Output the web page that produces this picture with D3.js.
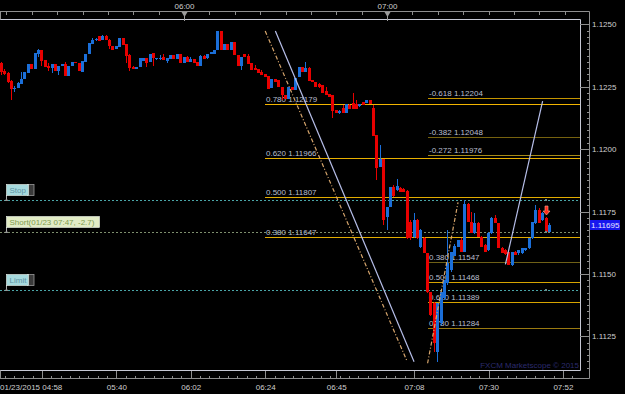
<!DOCTYPE html>
<html>
<head>
<meta charset="utf-8">
<script src="https://cdnjs.cloudflare.com/ajax/libs/d3/7.8.5/d3.min.js"></script>
<style>
  html, body { margin: 0; padding: 0; background: #000; }
  svg { display: block; font-family: "Liberation Sans", Arial, sans-serif; }
</style>
</head>
<body>
<svg id="chart"></svg>
<script>
// EUR/USD 1 minute bars, 01/23/2015, first bar 05:05
const firstBarTime = '05:05';

const opens = [
  1.12329, 1.12345, 1.12313, 1.12305, 1.12272, 1.12240, 1.12244, 1.12260, 1.12280, 1.12305,
  1.12340, 1.12319, 1.12383, 1.12397, 1.12357, 1.12334, 1.12323, 1.12340, 1.12314, 1.12332,
  1.12340, 1.12292, 1.12332, 1.12350, 1.12343, 1.12310, 1.12350, 1.12383, 1.12423, 1.12437,
  1.12453, 1.12439, 1.12454, 1.12439, 1.12414, 1.12401, 1.12410, 1.12446, 1.12421, 1.12379,
  1.12327, 1.12320, 1.12330, 1.12353, 1.12366, 1.12350, 1.12386, 1.12359, 1.12360, 1.12367,
  1.12354, 1.12359, 1.12377, 1.12359, 1.12381, 1.12343, 1.12367, 1.12350, 1.12359, 1.12350,
  1.12334, 1.12373, 1.12363, 1.12381, 1.12383, 1.12397, 1.12473, 1.12399, 1.12423, 1.12397,
  1.12430, 1.12379, 1.12334, 1.12381, 1.12373, 1.12343, 1.12323, 1.12319, 1.12310, 1.12300,
  1.12292, 1.12243, 1.12280, 1.12276, 1.12247, 1.12216, 1.12200, 1.12247, 1.12236, 1.12287,
  1.12330, 1.12310, 1.12324, 1.12275, 1.12267, 1.12260, 1.12256, 1.12232, 1.12220, 1.12216,
  1.12156, 1.12144, 1.12163, 1.12143, 1.12176, 1.12183, 1.12180, 1.12173, 1.12188, 1.12184,
  1.12196, 1.12163, 1.12056, 1.11927, 1.11960, 1.11729, 1.11769, 1.11848, 1.11836, 1.11844,
  1.11840, 1.11832, 1.11708, 1.11649, 1.11716, 1.11609, 1.11642, 1.11582, 1.11429, 1.11383,
  1.11188, 1.11302, 1.11402, 1.11462, 1.11516, 1.11571, 1.11608, 1.11635, 1.11588, 1.11782,
  1.11709, 1.11662, 1.11702, 1.11649, 1.11615, 1.11595, 1.11662, 1.11722, 1.11702, 1.11602,
  1.11595, 1.11587, 1.11535, 1.11588, 1.11582, 1.11582, 1.11595, 1.11602, 1.11642, 1.11702,
  1.11756, 1.11716, 1.11722, 1.11668
];
const highs = [
  1.12349, 1.12349, 1.12321, 1.12309, 1.12276, 1.12252, 1.12268, 1.12309, 1.12309, 1.12340,
  1.12341, 1.12386, 1.12403, 1.12399, 1.12357, 1.12346, 1.12340, 1.12342, 1.12332, 1.12340,
  1.12350, 1.12332, 1.12350, 1.12350, 1.12345, 1.12352, 1.12383, 1.12426, 1.12446, 1.12446,
  1.12455, 1.12457, 1.12456, 1.12440, 1.12414, 1.12413, 1.12446, 1.12446, 1.12422, 1.12380,
  1.12332, 1.12330, 1.12363, 1.12363, 1.12366, 1.12383, 1.12386, 1.12364, 1.12377, 1.12383,
  1.12363, 1.12377, 1.12377, 1.12383, 1.12381, 1.12367, 1.12374, 1.12370, 1.12359, 1.12350,
  1.12377, 1.12377, 1.12383, 1.12390, 1.12397, 1.12473, 1.12473, 1.12423, 1.12423, 1.12430,
  1.12430, 1.12379, 1.12370, 1.12381, 1.12381, 1.12343, 1.12337, 1.12319, 1.12317, 1.12300,
  1.12292, 1.12280, 1.12280, 1.12276, 1.12247, 1.12216, 1.12247, 1.12247, 1.12284, 1.12330,
  1.12330, 1.12347, 1.12328, 1.12275, 1.12267, 1.12264, 1.12256, 1.12248, 1.12220, 1.12216,
  1.12156, 1.12156, 1.12176, 1.12180, 1.12180, 1.12223, 1.12196, 1.12180, 1.12190, 1.12196,
  1.12198, 1.12176, 1.12056, 1.12016, 1.11960, 1.11769, 1.11849, 1.11856, 1.11879, 1.11848,
  1.11844, 1.11836, 1.11716, 1.11743, 1.11720, 1.11680, 1.11646, 1.11582, 1.11429, 1.11387,
  1.11383, 1.11428, 1.11475, 1.11676, 1.11588, 1.11619, 1.11635, 1.11643, 1.11795, 1.11783,
  1.11749, 1.11744, 1.11708, 1.11652, 1.11619, 1.11668, 1.11728, 1.11736, 1.11704, 1.11608,
  1.11599, 1.11591, 1.11588, 1.11591, 1.11595, 1.11605, 1.11605, 1.11643, 1.11709, 1.11776,
  1.11764, 1.11748, 1.11727, 1.11702
];
const lows = [
  1.12325, 1.12297, 1.12297, 1.12264, 1.12196, 1.12229, 1.12244, 1.12260, 1.12280, 1.12305,
  1.12319, 1.12319, 1.12370, 1.12334, 1.12330, 1.12314, 1.12305, 1.12313, 1.12297, 1.12332,
  1.12292, 1.12292, 1.12332, 1.12343, 1.12313, 1.12310, 1.12350, 1.12383, 1.12423, 1.12434,
  1.12434, 1.12439, 1.12437, 1.12401, 1.12399, 1.12401, 1.12410, 1.12417, 1.12346, 1.12314,
  1.12320, 1.12320, 1.12330, 1.12353, 1.12330, 1.12350, 1.12334, 1.12356, 1.12356, 1.12356,
  1.12346, 1.12359, 1.12359, 1.12359, 1.12343, 1.12343, 1.12350, 1.12350, 1.12346, 1.12334,
  1.12334, 1.12361, 1.12361, 1.12381, 1.12383, 1.12397, 1.12399, 1.12399, 1.12397, 1.12397,
  1.12379, 1.12334, 1.12317, 1.12367, 1.12340, 1.12317, 1.12317, 1.12305, 1.12297, 1.12290,
  1.12240, 1.12243, 1.12267, 1.12250, 1.12196, 1.12200, 1.12200, 1.12236, 1.12236, 1.12287,
  1.12310, 1.12310, 1.12272, 1.12267, 1.12247, 1.12244, 1.12225, 1.12216, 1.12207, 1.12124,
  1.12143, 1.12140, 1.12143, 1.12143, 1.12160, 1.12159, 1.12159, 1.12170, 1.12176, 1.12184,
  1.12179, 1.12052, 1.11876, 1.11927, 1.11695, 1.11676, 1.11769, 1.11808, 1.11832, 1.11829,
  1.11829, 1.11638, 1.11636, 1.11644, 1.11638, 1.11605, 1.11582, 1.11425, 1.11330, 1.11188,
  1.11148, 1.11295, 1.11395, 1.11455, 1.11507, 1.11571, 1.11607, 1.11587, 1.11587, 1.11709,
  1.11662, 1.11660, 1.11649, 1.11609, 1.11588, 1.11591, 1.11660, 1.11702, 1.11602, 1.11582,
  1.11575, 1.11535, 1.11531, 1.11575, 1.11575, 1.11578, 1.11591, 1.11598, 1.11640, 1.11699,
  1.11702, 1.11712, 1.11667, 1.11667
];
const closes = [
  1.12345, 1.12309, 1.12301, 1.12268, 1.12240, 1.12245, 1.12265, 1.12280, 1.12307, 1.12340,
  1.12319, 1.12386, 1.12397, 1.12354, 1.12330, 1.12323, 1.12340, 1.12313, 1.12332, 1.12340,
  1.12292, 1.12332, 1.12350, 1.12343, 1.12313, 1.12352, 1.12383, 1.12426, 1.12439, 1.12441,
  1.12434, 1.12455, 1.12437, 1.12414, 1.12399, 1.12413, 1.12446, 1.12417, 1.12373, 1.12323,
  1.12320, 1.12330, 1.12363, 1.12363, 1.12346, 1.12383, 1.12363, 1.12363, 1.12363, 1.12356,
  1.12363, 1.12377, 1.12359, 1.12383, 1.12343, 1.12367, 1.12350, 1.12361, 1.12346, 1.12334,
  1.12373, 1.12361, 1.12383, 1.12390, 1.12397, 1.12473, 1.12399, 1.12423, 1.12397, 1.12430,
  1.12379, 1.12334, 1.12370, 1.12367, 1.12340, 1.12317, 1.12317, 1.12305, 1.12297, 1.12290,
  1.12240, 1.12280, 1.12267, 1.12250, 1.12216, 1.12200, 1.12247, 1.12236, 1.12284, 1.12330,
  1.12310, 1.12326, 1.12272, 1.12267, 1.12247, 1.12248, 1.12225, 1.12216, 1.12207, 1.12153,
  1.12143, 1.12152, 1.12143, 1.12180, 1.12160, 1.12159, 1.12159, 1.12180, 1.12176, 1.12196,
  1.12179, 1.12052, 1.11923, 1.11960, 1.11715, 1.11769, 1.11849, 1.11812, 1.11852, 1.11829,
  1.11829, 1.11642, 1.11644, 1.11716, 1.11642, 1.11676, 1.11582, 1.11429, 1.11335, 1.11222,
  1.11382, 1.11428, 1.11475, 1.11542, 1.11588, 1.11611, 1.11635, 1.11588, 1.11782, 1.11709,
  1.11662, 1.11702, 1.11649, 1.11609, 1.11588, 1.11665, 1.11722, 1.11702, 1.11602, 1.11582,
  1.11579, 1.11535, 1.11588, 1.11575, 1.11595, 1.11602, 1.11602, 1.11642, 1.11709, 1.11756,
  1.11702, 1.11742, 1.11668, 1.11695
];

// Fibonacci retracement / extension levels
const fibStartA = '06:24';
const fibRatiosA = ['0.780', '0.620', '0.500', '0.380'];
const fibPricesA = [1.12179, 1.11966, 1.11807, 1.11647];
const fibStartB = '07:12';
const fibRatiosB = ['-0.618', '-0.382', '-0.272', '0.380', '0.500', '0.620', '0.780'];
const fibPricesB = [1.12204, 1.12048, 1.11976, 1.11547, 1.11468, 1.11389, 1.11284];

// trend lines (start time/price -> end time/price)
const trendStartTimes = ['06:27', '06:24', '07:12', '07:35'];
const trendStartPrices = [1.12473, 1.12473, 1.11142, 1.11538];
const trendEndTimes = ['07:08', '07:06', '07:21', '07:46'];
const trendEndPrices = [1.11148, 1.11148, 1.11787, 1.12192];

// open position and its orders
const orderNames = ['Stop', 'Short(01/23 07:47, -2.7)', 'Limit'];
const orderPrices = [1.11796, 1.11668, 1.11436];
const entryTime = '07:47';

// axis ticks
const priceTicks = [1.1125, 1.1150, 1.1175, 1.1200, 1.1225, 1.1250];
const hourTicks = ['06:00', '07:00'];
const bottomTickTimes = ['05:18', '05:40', '06:02', '06:24', '06:45', '07:08', '07:30', '07:52'];
const bottomTickLabels = ['', '05:40', '06:02', '06:24', '06:45', '07:08', '07:30', '07:52'];
const firstDateLabel = '01/23/2015 04:58';
const watermark = 'FXCM Marketscope \u00a9 2015';

const parseTime = d3.timeParse('%Y-%m-%d %H:%M');
const at = s => parseTime('2015-01-23 ' + s);

class CandleChart {

    constructor(_config) {
        this.config = {
            parentElement: _config.parentElement,
            containerWidth: _config.containerWidth || 625,
            containerHeight: _config.containerHeight || 394,
        };
        this.initVis();
    }

    initVis() {
        let vis = this;

        // plot frame in marketscope layout: price scale column on the right, time bands top and bottom
        vis.frame = { right: 580, scaleRight: 589, bandTop: 11, top: 19, bottom: 370, bandBottom: 378 };

        vis.svg = d3.select(vis.config.parentElement)
            .attr('width', vis.config.containerWidth)
            .attr('height', vis.config.containerHeight)
            .style('background', '#000');

        vis.xScale = d3.scaleTime()
            .domain([at('06:00'), at('07:00')])
            .range([184, 387]);

        vis.yScale = d3.scaleLinear()
            .domain([1.1125, 1.1250])
            .range([336.3, 24.3]);

        vis.svg.append('defs').append('clipPath')
            .attr('id', 'plot-clip')
            .append('rect')
            .attr('x', 0)
            .attr('y', vis.frame.top)
            .attr('width', vis.frame.right)
            .attr('height', vis.frame.bottom - vis.frame.top);

        vis.bars = opens.map((o, i) => ({
            time: d3.timeMinute.offset(at(firstBarTime), i),
            open: o, high: highs[i], low: lows[i], close: closes[i]
        }));
    }

    render() {
        let vis = this;
        const f = vis.frame;
        const x = vis.xScale, y = vis.yScale;
        const crisp = v => Math.round(v) + 0.5;

        vis.drawAxes();

        const plot = vis.svg.append('g').attr('clip-path', 'url(#plot-clip)');

        // fib levels
        const fibColorsA = ['#f2b400', '#e8b000', '#e2ad00', '#e2ad00'];
        const fibColorsB = ['#c49400', '#76620f', '#a68a18', '#6f6117', '#d6a400', '#d6a400', '#9a7a10'];
        const fibs = fibRatiosA.map((r, i) => ({ r, p: fibPricesA[i], start: at(fibStartA), color: fibColorsA[i] }))
            .concat(fibRatiosB.map((r, i) => ({ r, p: fibPricesB[i], start: at(fibStartB), color: fibColorsB[i] })));

        plot.selectAll('.fib-line').data(fibs).join('line')
            .attr('class', 'fib-line')
            .attr('x1', d => Math.round(x(d.start)))
            .attr('x2', f.right)
            .attr('y1', d => crisp(y(d.p)))
            .attr('y2', d => crisp(y(d.p)))
            .attr('stroke', d => d.color)
            .attr('stroke-width', 1);

        plot.selectAll('.fib-label').data(fibs).join('text')
            .attr('class', 'fib-label')
            .attr('x', d => Math.round(x(d.start)) + 1)
            .attr('y', d => Math.round(y(d.p)) - 2.5)
            .attr('fill', '#b9bfd0')
            .attr('font-size', 8)
            .text(d => `${d.r} ${d.p.toFixed(5)}`);

        // order lines
        const orderLineColors = ['#4aa6a8', '#7e8f6e', '#4aa6a8'];
        plot.selectAll('.order-line').data(orderPrices).join('line')
            .attr('class', 'order-line')
            .attr('x1', 0).attr('x2', f.right)
            .attr('y1', d => crisp(y(d))).attr('y2', d => crisp(y(d)))
            .attr('stroke', (d, i) => orderLineColors[i])
            .attr('stroke-dasharray', '2,2');

        // candles
        const up = '#1b6fd9', down = '#e80000';
        const candle = plot.selectAll('.candle').data(vis.bars).join('g').attr('class', 'candle');
        candle.append('rect')
            .attr('x', d => Math.round(x(d.time) - 1.5) + 1)
            .attr('width', 1)
            .attr('y', d => Math.round(y(d.high)))
            .attr('height', d => Math.max(1, Math.round(y(d.low)) - Math.round(y(d.high))))
            .attr('fill', d => d.close >= d.open ? up : down);
        candle.append('rect')
            .attr('x', d => Math.round(x(d.time) - 1.5))
            .attr('width', 3)
            .attr('y', d => Math.round(y(Math.max(d.open, d.close))))
            .attr('height', d => Math.max(1, Math.round(y(Math.min(d.open, d.close))) - Math.round(y(Math.max(d.open, d.close)))))
            .attr('fill', d => d.close >= d.open ? up : down);

        // trend lines
        const trendColors = ['#b7bfea', '#d6a56c', '#d6a56c', '#b7bfea'];
        const trendDash = [null, '4,2,1,2', '4,2,1,2', null];
        plot.selectAll('.trend').data(trendStartTimes).join('line')
            .attr('class', 'trend')
            .attr('x1', (d, i) => x(at(d)))
            .attr('y1', (d, i) => y(trendStartPrices[i]))
            .attr('x2', (d, i) => x(at(trendEndTimes[i])))
            .attr('y2', (d, i) => y(trendEndPrices[i]))
            .attr('stroke', (d, i) => trendColors[i])
            .attr('stroke-width', 1.2)
            .attr('stroke-dasharray', (d, i) => trendDash[i]);

        // order flags on the left
        const flagFill = ['#a6dade', '#e2ecc6', '#a6dade'];
        const flagText = ['#5f93a3', '#7e9a4e', '#5f93a3'];
        const flagWidth = [22, 93, 22];
        const flag = plot.selectAll('.flag').data(orderNames).join('g')
            .attr('class', 'flag')
            .attr('transform', (d, i) => `translate(6,${Math.round(y(orderPrices[i]))})`);
        flag.append('line')
            .attr('x1', 0.5).attr('x2', 0.5).attr('y1', -5).attr('y2', 0)
            .attr('stroke', '#b0b0b0');
        flag.append('path')
            .attr('d', 'M-1.5,1 L2.5,1 L0.5,-1.5 Z')
            .attr('fill', '#9a9a9a');
        flag.filter((d, i) => i !== 1).append('rect')
            .attr('x', (d, i) => flagWidth[0] - 0.5).attr('y', -15.5)
            .attr('width', 6.5).attr('height', 11)
            .attr('fill', '#3a3a3a').attr('stroke', '#9a9a9a').attr('stroke-width', 0.8);
        flag.append('rect')
            .attr('x', 0.5).attr('y', -15.5)
            .attr('width', (d, i) => flagWidth[i]).attr('height', 11)
            .attr('fill', (d, i) => flagFill[i])
            .attr('stroke', '#f2f8f0').attr('stroke-width', 0.6);
        flag.append('text')
            .attr('x', 3.5).attr('y', -7)
            .attr('font-size', 8)
            .attr('fill', (d, i) => flagText[i])
            .text(d => d);

        // order markers at the entry bar
        plot.selectAll('.order-dot').data(orderPrices).join('rect')
            .attr('class', 'order-dot')
            .attr('x', Math.round(x(at(entryTime))) - 1)
            .attr('y', d => Math.round(y(d)) - 1)
            .attr('width', 2).attr('height', 2)
            .attr('fill', '#6f8c8a');

        // sell arrow above the entry bar
        const ax = Math.round(x(at(entryTime))) + 0.5;
        const ay = Math.round(y(highs[highs.length - 2])) - 11;
        plot.append('path')
            .attr('d', `M${ax - 1.5},${ay} h3 v5 h2 l-3.5,4 l-3.5,-4 h2 Z`)
            .attr('fill', '#ff2a1a')
            .attr('stroke', '#ffb09a')
            .attr('stroke-width', 0.6);

        // watermark
        vis.svg.append('text')
            .attr('x', f.right - 1)
            .attr('y', f.bottom - 2)
            .attr('text-anchor', 'end')
            .attr('font-size', 8)
            .attr('fill', '#2b2b6e')
            .text(watermark);

        // current price marker
        const last = closes[closes.length - 1];
        const ly = Math.round(y(last));
        vis.svg.append('rect')
            .attr('x', 590).attr('y', ly - 5)
            .attr('width', 30).attr('height', 10)
            .attr('fill', '#1717ee');
        vis.svg.append('text')
            .attr('x', 591).attr('y', ly + 3)
            .attr('font-size', 8)
            .attr('fill', '#e8e8ff')
            .text(last.toFixed(5));
    }

    drawAxes() {
        let vis = this;
        const f = vis.frame;
        const x = vis.xScale, y = vis.yScale;
        const lineColor = '#8e8e8e', frameColor = '#c6c8d4', textColor = '#cfcfcf';

        // frame lines
        const frameLines = [
            [0, f.bandTop + 0.5, f.scaleRight + 0.5, f.bandTop + 0.5, lineColor],
            [0, f.top + 0.5, f.right + 0.5, f.top + 0.5, frameColor],
            [0, f.bottom + 0.5, f.right + 0.5, f.bottom + 0.5, frameColor],
            [0, f.bandBottom + 0.5, f.scaleRight + 0.5, f.bandBottom + 0.5, lineColor],
            [f.right + 0.5, f.top + 0.5, f.right + 0.5, f.bottom + 0.5, frameColor],
            [f.scaleRight + 0.5, f.bandTop + 0.5, f.scaleRight + 0.5, f.bandBottom + 0.5, lineColor],
            [0.5, f.bandTop + 0.5, 0.5, f.top + 0.5, lineColor],
            [0.5, f.bottom + 0.5, 0.5, f.bandBottom + 0.5, lineColor]
        ];
        vis.svg.selectAll('.frame').data(frameLines).join('line')
            .attr('class', 'frame')
            .attr('x1', d => d[0]).attr('y1', d => d[1])
            .attr('x2', d => d[2]).attr('y2', d => d[3])
            .attr('stroke', d => d[4]);

        const styleAxis = g => {
            g.select('.domain').remove();
            g.selectAll('line').attr('stroke', lineColor).attr('shape-rendering', 'crispEdges');
            g.selectAll('text').attr('fill', textColor).attr('font-size', 8)
                .attr('font-family', '"Liberation Sans", Arial, sans-serif');
        };

        // price scale
        vis.svg.append('g')
            .attr('transform', `translate(${f.right},0)`)
            .call(d3.axisRight(y).tickValues(priceTicks).tickFormat(d3.format('.4f')).tickSize(9).tickPadding(3))
            .call(styleAxis);

        const minorPrices = d3.range(1.1100, 1.1265, 0.00025)
            .filter(p => y(p) > f.top + 2 && y(p) < f.bottom - 2);
        vis.svg.append('g')
            .attr('transform', `translate(${f.scaleRight + 0.5},0)`)
            .call(d3.axisLeft(y).tickValues(minorPrices).tickFormat('').tickSize(3))
            .call(styleAxis);

        // top band: 7.5 minute ticks and hour markers
        const topTicks = d3.range(0, 200, 7.5)
            .map(m => d3.timeSecond.offset(at('05:00'), m * 60))
            .filter(t => x(t) > 1 && x(t) < f.right);
        vis.svg.append('g')
            .attr('transform', `translate(0,${f.bandTop + 0.5})`)
            .call(d3.axisBottom(x).tickValues(topTicks).tickFormat('').tickSize(3))
            .call(styleAxis);

        const hours = vis.svg.selectAll('.hour').data(hourTicks).join('g')
            .attr('class', 'hour')
            .attr('transform', d => `translate(${Math.round(x(at(d))) + 0.5},0)`);
        hours.append('path')
            .attr('d', `M-3,${f.bandTop + 1} L3,${f.bandTop + 1} L0,${f.bandTop + 6} Z`)
            .attr('fill', '#9c9c9c');
        hours.append('line')
            .attr('y1', f.bandTop + 5).attr('y2', f.top + 2)
            .attr('stroke', '#9c9c9c');
        hours.append('text')
            .attr('y', 8.5)
            .attr('text-anchor', 'middle')
            .attr('font-size', 8)
            .attr('fill', textColor)
            .text(d => d);

        // bottom band
        const base = at(bottomTickTimes[0]);
        const minorTimes = d3.range(-8, 70)
            .map(k => d3.timeSecond.offset(base, k * 165))
            .filter(t => x(t) > 1 && x(t) < f.right);
        vis.svg.append('g')
            .attr('transform', `translate(0,${f.bandBottom + 0.5})`)
            .call(d3.axisTop(x).tickValues(minorTimes).tickFormat('').tickSize(3))
            .call(styleAxis);

        vis.svg.append('g')
            .attr('transform', `translate(0,${f.bottom + 0.5})`)
            .call(d3.axisBottom(x)
                .tickValues(bottomTickTimes.map(at))
                .tickFormat((d, i) => bottomTickLabels[i])
                .tickSize(8).tickPadding(6))
            .call(styleAxis);

        vis.svg.append('text')
            .attr('x', 0).attr('y', 389.5)
            .attr('font-size', 8)
            .attr('fill', textColor)
            .text(firstDateLabel);
    }
}

const chart = new CandleChart({ parentElement: '#chart' });
chart.render();
</script>
</body>
</html>
